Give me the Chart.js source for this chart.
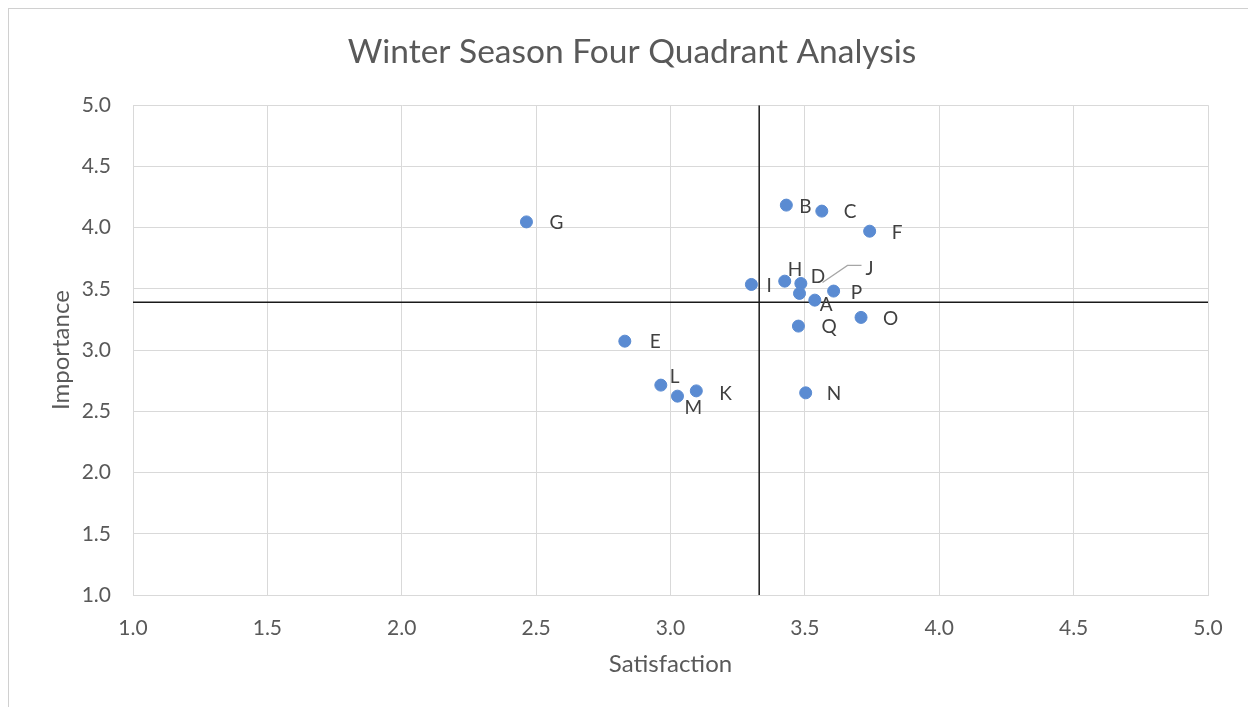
<!DOCTYPE html>
<html><head><meta charset="utf-8">
<script src="https://cdn.jsdelivr.net/npm/chart.js@4.4.0/dist/chart.umd.min.js"></script>
<style>html,body{margin:0;padding:0;background:#fff}#wrap{width:1248px;height:707px;position:relative}canvas{display:block}</style>
</head><body><div id="wrap"><canvas id="c" width="1248" height="707"></canvas></div>
<script>
const chartTitle = 'Winter Season Four Quadrant Analysis';
const xAxisTitle = 'Satisfaction';
const yAxisTitle = 'Importance';
const pointNames   = ['G', 'B', 'C', 'F', 'I', 'H', 'D', 'J', 'P', 'A', 'O', 'Q', 'E', 'L', 'M', 'K', 'N'];
const satisfaction = [2.464, 3.431, 3.563, 3.741, 3.301, 3.425, 3.485, 3.480, 3.607, 3.537, 3.709, 3.476, 2.830, 2.964, 3.026, 3.096, 3.503];
const importance   = [4.047, 4.184, 4.135, 3.971, 3.536, 3.563, 3.544, 3.463, 3.482, 3.408, 3.267, 3.196, 3.073, 2.714, 2.624, 2.667, 2.651];
const meanSatisfaction = 3.33;
const meanImportance = 3.39;
const axisMin = 1.0;
const axisMax = 5.0;
const tickStep = 0.5;

// label placement relative to each point (styling only, in px)
const labelOffsets = {G:[23,1],B:[13,2],C:[22,1],F:[22,2],I:[15,1],H:[3,-11],D:[10,-7],J:[66,-25],P:[17,2],A:[5,5],O:[22,1],Q:[23,1],E:[25,1],L:[9,-8],M:[7,12],K:[23,3],N:[21,1]};
const leaderLines = {J:[[23,-11],[48,-28],[62,-28]]};

const FONT = 'Lato';
const TXT = '#595959';

const labelPlugin = {
  id: 'pointLabels',
  beforeDraw(chart) {
    const ctx = chart.ctx;
    ctx.save();
    ctx.fillStyle = '#fff';
    ctx.fillRect(0, 0, chart.width, chart.height);
    ctx.strokeStyle = '#d0d0d0';
    ctx.lineWidth = 1;
    ctx.strokeRect(8.5, 8.5, chart.width, chart.height);
    ctx.restore();
  },
  afterDatasetsDraw(chart) {
    const ctx = chart.ctx;
    const meta = chart.getDatasetMeta(0);
    ctx.save();
    ctx.font = '19px ' + FONT;
    ctx.fillStyle = '#404040';
    ctx.textBaseline = 'middle';
    ctx.textAlign = 'left';
    meta.data.forEach((el, i) => {
      const name = pointNames[i];
      const off = labelOffsets[name] || [12, 0];
      if (leaderLines[name]) {
        ctx.beginPath();
        ctx.strokeStyle = '#a6a6a6';
        ctx.lineWidth = 1.2;
        leaderLines[name].forEach((p, k) => {
          if (k === 0) ctx.moveTo(el.x + p[0], el.y + p[1]);
          else ctx.lineTo(el.x + p[0], el.y + p[1]);
        });
        ctx.stroke();
      }
      ctx.fillText(name, el.x + off[0], el.y + off[1]);
    });
    ctx.restore();
  }
};

const points = satisfaction.map((x, i) => ({x, y: importance[i]}));

new Chart(document.getElementById('c'), {
  type: 'scatter',
  data: {
    datasets: [
      {
        label: 'Items',
        data: points,
        backgroundColor: '#5a8bd2',
        borderColor: '#5a8bd2',
        pointRadius: 6,
        pointHoverRadius: 6,
        order: 0
      },
      {
        label: 'Mean satisfaction',
        type: 'line',
        data: [{x: meanSatisfaction, y: axisMin}, {x: meanSatisfaction, y: axisMax}],
        borderColor: '#1a1a1a',
        borderWidth: 1.5,
        pointRadius: 0,
        order: 1
      },
      {
        label: 'Mean importance',
        type: 'line',
        data: [{x: axisMin, y: meanImportance}, {x: axisMax, y: meanImportance}],
        borderColor: '#1a1a1a',
        borderWidth: 1.5,
        pointRadius: 0,
        order: 1
      }
    ]
  },
  options: {
    responsive: false,
    animation: false,
    devicePixelRatio: 1,
    layout: {padding: {left: 56, right: 40, top: 0, bottom: 0}},
    plugins: {
      legend: {display: false},
      tooltip: {enabled: false},
      title: {
        display: true,
        text: chartTitle,
        color: TXT,
        font: {family: FONT, size: 33.5, weight: 'normal', lineHeight: 1.2},
        padding: {top: 32, bottom: 33}
      }
    },
    scales: {
      x: {
        type: 'linear',
        min: axisMin, max: axisMax,
        ticks: {stepSize: tickStep, color: TXT, font: {family: FONT, size: 21}, padding: 21, callback: v => v.toFixed(1)},
        grid: {color: '#d9d9d9', drawTicks: false, lineWidth: 1},
        border: {display: true, color: '#d9d9d9'},
        title: {display: true, text: xAxisTitle, color: TXT, font: {family: FONT, size: 24}, padding: {top: 0, bottom: 28}},
        afterFit: s => { s.height = 112; }
      },
      y: {
        type: 'linear',
        min: axisMin, max: axisMax,
        ticks: {stepSize: tickStep, color: TXT, font: {family: FONT, size: 21}, padding: 22, callback: v => v.toFixed(1)},
        grid: {color: '#d9d9d9', drawTicks: false, lineWidth: 1},
        border: {display: true, color: '#d9d9d9'},
        title: {display: true, text: yAxisTitle, color: TXT, font: {family: FONT, size: 24}, padding: {top: -9.4, bottom: 0}},
        afterFit: s => { s.width = 77; }
      }
    }
  },
  plugins: [labelPlugin]
});
</script>
</body></html>
